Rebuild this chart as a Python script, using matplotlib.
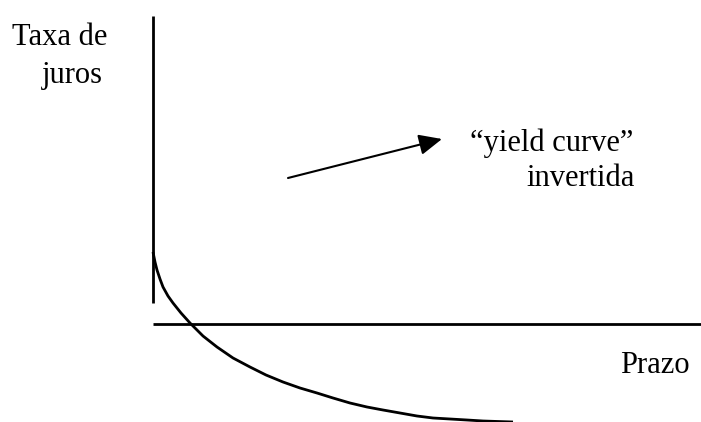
import matplotlib
matplotlib.use("Agg")
import matplotlib.pyplot as plt

# Chart units: origin at the axes crossing, 1 unit = 1 reference pixel
curve_x = [0, 2, 4, 7, 10, 15, 20, 28, 37, 50, 64, 80, 97, 113, 130, 147, 164, 180, 197, 214, 230, 247, 264, 280, 297, 314, 330, 345, 360]
curve_y = [72, 62, 54, 45, 37, 28, 21, 11, 1, -12, -23, -34, -43, -51, -58, -64, -69, -74, -79, -83, -86, -89, -92, -94, -95, -96, -97, -97.5, -98]

y_axis_x = [0, 0]
y_axis_y = [21, 308]
x_axis_x = [0, 548]
x_axis_y = [0, 0]

arrow_start = (135, 146)
arrow_end = (289, 185)

label_y = ["Taxa de", "juros"]
label_x = "Prazo"
note = ["\u201cyield curve\u201d", "invertida"]

fig = plt.figure(figsize=(7.01, 4.22), dpi=100)
ax = fig.add_axes([0, 0, 1, 1])
ax.set_xlim(-153, 548)
ax.set_ylim(-98, 324)
ax.axis("off")

ax.plot(y_axis_x, y_axis_y, color="black", lw=2, solid_capstyle="butt")
ax.plot(x_axis_x, x_axis_y, color="black", lw=2, solid_capstyle="butt")
ax.plot(curve_x, curve_y, color="black", lw=2, solid_capstyle="butt", solid_joinstyle="round")

ax.annotate("", xy=arrow_end, xytext=arrow_start,
            arrowprops=dict(arrowstyle="-|>,head_length=1.0,head_width=0.45",
                            color="black", lw=1.5, shrinkA=0, shrinkB=0,
                            mutation_scale=14))

font = dict(family="Liberation Serif", size=22, color="black", va="baseline", ha="left")
ax.text(-141, 279, label_y[0], **font)
ax.text(-111, 241, label_y[1], **font)
ax.text(317, 173, note[0], **font)
ax.text(373, 138, note[1], **font)
ax.text(467, -49, label_x, **font)

fig.savefig("out.png", dpi=100)
